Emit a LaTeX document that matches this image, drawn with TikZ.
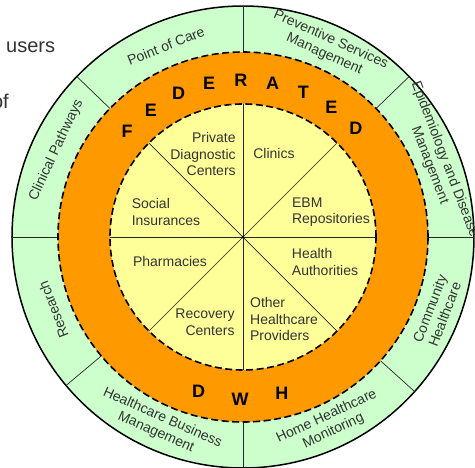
\documentclass[tikz,border=0pt]{standalone}
\usepackage{fontspec}
\setmainfont{Liberation Sans}

\definecolor{ringgreen}{HTML}{CCFFCC}
\definecolor{ringorange}{HTML}{FF9900}
\definecolor{coreyellow}{HTML}{FFFF99}
\definecolor{labelgray}{HTML}{333333}

\tikzset{
  sector/.style={text=labelgray, font=\fontsize{14}{16.5}\selectfont, inner sep=0pt},
  ringlabel/.style={text=labelgray, font=\fontsize{14}{16}\selectfont, align=center, inner sep=0pt},
  letter/.style={font=\fontsize{18}{18}\selectfont\bfseries, inner sep=0pt},
  rim/.style={line width=1.6pt, dash pattern=on 7pt off 3.5pt},
  spoke/.style={line width=0.7pt, black!85},
}

\begin{document}
\begin{tikzpicture}[x=1pt, y=1pt]

\useasboundingbox (-243,-230) rectangle (232,237);
\clip (-243,-230) rectangle (232,237);
\fill[white] (-243,-230) rectangle (232,237);

% text of the slide behind the wheel
\node[text=labelgray, font=\fontsize{20}{20}\selectfont, anchor=base west, inner sep=0pt] (users) at (-237,185) {users};
\node[text=labelgray, font=\fontsize{20}{20}\selectfont, anchor=base east, inner sep=0pt] (of) at (-234,129) {of};

% outer ring
\filldraw[fill=ringgreen, draw=black, line width=1.5pt] (0,0) circle (231);
\draw[spoke] (0:185) -- (0:231);
\draw[spoke] (44:185) -- (44:231);
\draw[spoke] (90:185) -- (90:231);
\draw[spoke] (136:185) -- (136:231);
\draw[spoke] (180:185) -- (180:231);
\draw[spoke] (220:185) -- (220:231);
\draw[spoke] (270:185) -- (270:231);
\draw[spoke] (318:185) -- (318:231);

% middle ring and core
\filldraw[fill=ringorange, rim] (0,0) circle (185);
\filldraw[fill=coreyellow, rim] (0,0) circle (133);
\draw[spoke] (0:133) -- (180:133);
\draw[spoke] (90:133) -- (270:133);
\draw[spoke] (45:133) -- (225:133);
\draw[spoke] (135:133) -- (315:133);
\fill (0,0) circle (1.5);

% core sectors
\node[sector, align=right] (private) at (-40,83) {Private\\Diagnostic\\Centers};
\node[sector] (clinics) at (31,84) {Clinics};
\node[sector, align=left] (social) at (-77,25) {Social\\Insurances};
\node[sector, align=left] (ebm) at (88,25) {EBM\\Repositories};
\node[sector] (pharma) at (-73,-24) {Pharmacies};
\node[sector, align=left] (authority) at (82,-25) {Health\\Authorities};
\node[sector, align=right] (recovery) at (-38,-85) {Recovery\\Centers};
\node[sector, align=left] (providers) at (41,-82) {Other\\Healthcare\\Providers};

% FEDERATED  DWH
\node[letter] (f1) at (137.6:157) {F};
\node[letter] (e1) at (125.9:157) {E};
\node[letter] (d1) at (114.2:157) {D};
\node[letter] (e2) at (102.5:157) {E};
\node[letter] (r1) at (90.8:157) {R};
\node[letter] (a1) at (79.1:157) {A};
\node[letter] (t1) at (67.4:157) {T};
\node[letter] (e3) at (55.7:157) {E};
\node[letter] (d2) at (44:157) {D};

\node[letter] (d3) at (254:161) {D};
\node[letter] (w1) at (269:162) {W};
\node[letter] (h1) at (284:161) {H};

% outer ring labels
\node[ringlabel, rotate=22] (care) at (112:206) {Point of Care};
\node[ringlabel, rotate=-24] (prevent) at (66:208) {Preventive Services\\Management};
\node[ringlabel, rotate=-69] (epidem) at (21:208) {Epidemiology and Disease\\Management};
\node[ringlabel, rotate=69] (community) at (-21:208) {Community\\Healthcare};
\node[ringlabel, rotate=25] (home) at (-65:206) {Home Healthcare\\Monitoring};
\node[ringlabel, rotate=-24] (business) at (246:206) {Healthcare Business\\Management};
\node[ringlabel, rotate=111] (research) at (201:203) {Research};
\node[ringlabel, rotate=65] (pathways) at (155:206) {Clinical Pathways};

\end{tikzpicture}
\end{document}
